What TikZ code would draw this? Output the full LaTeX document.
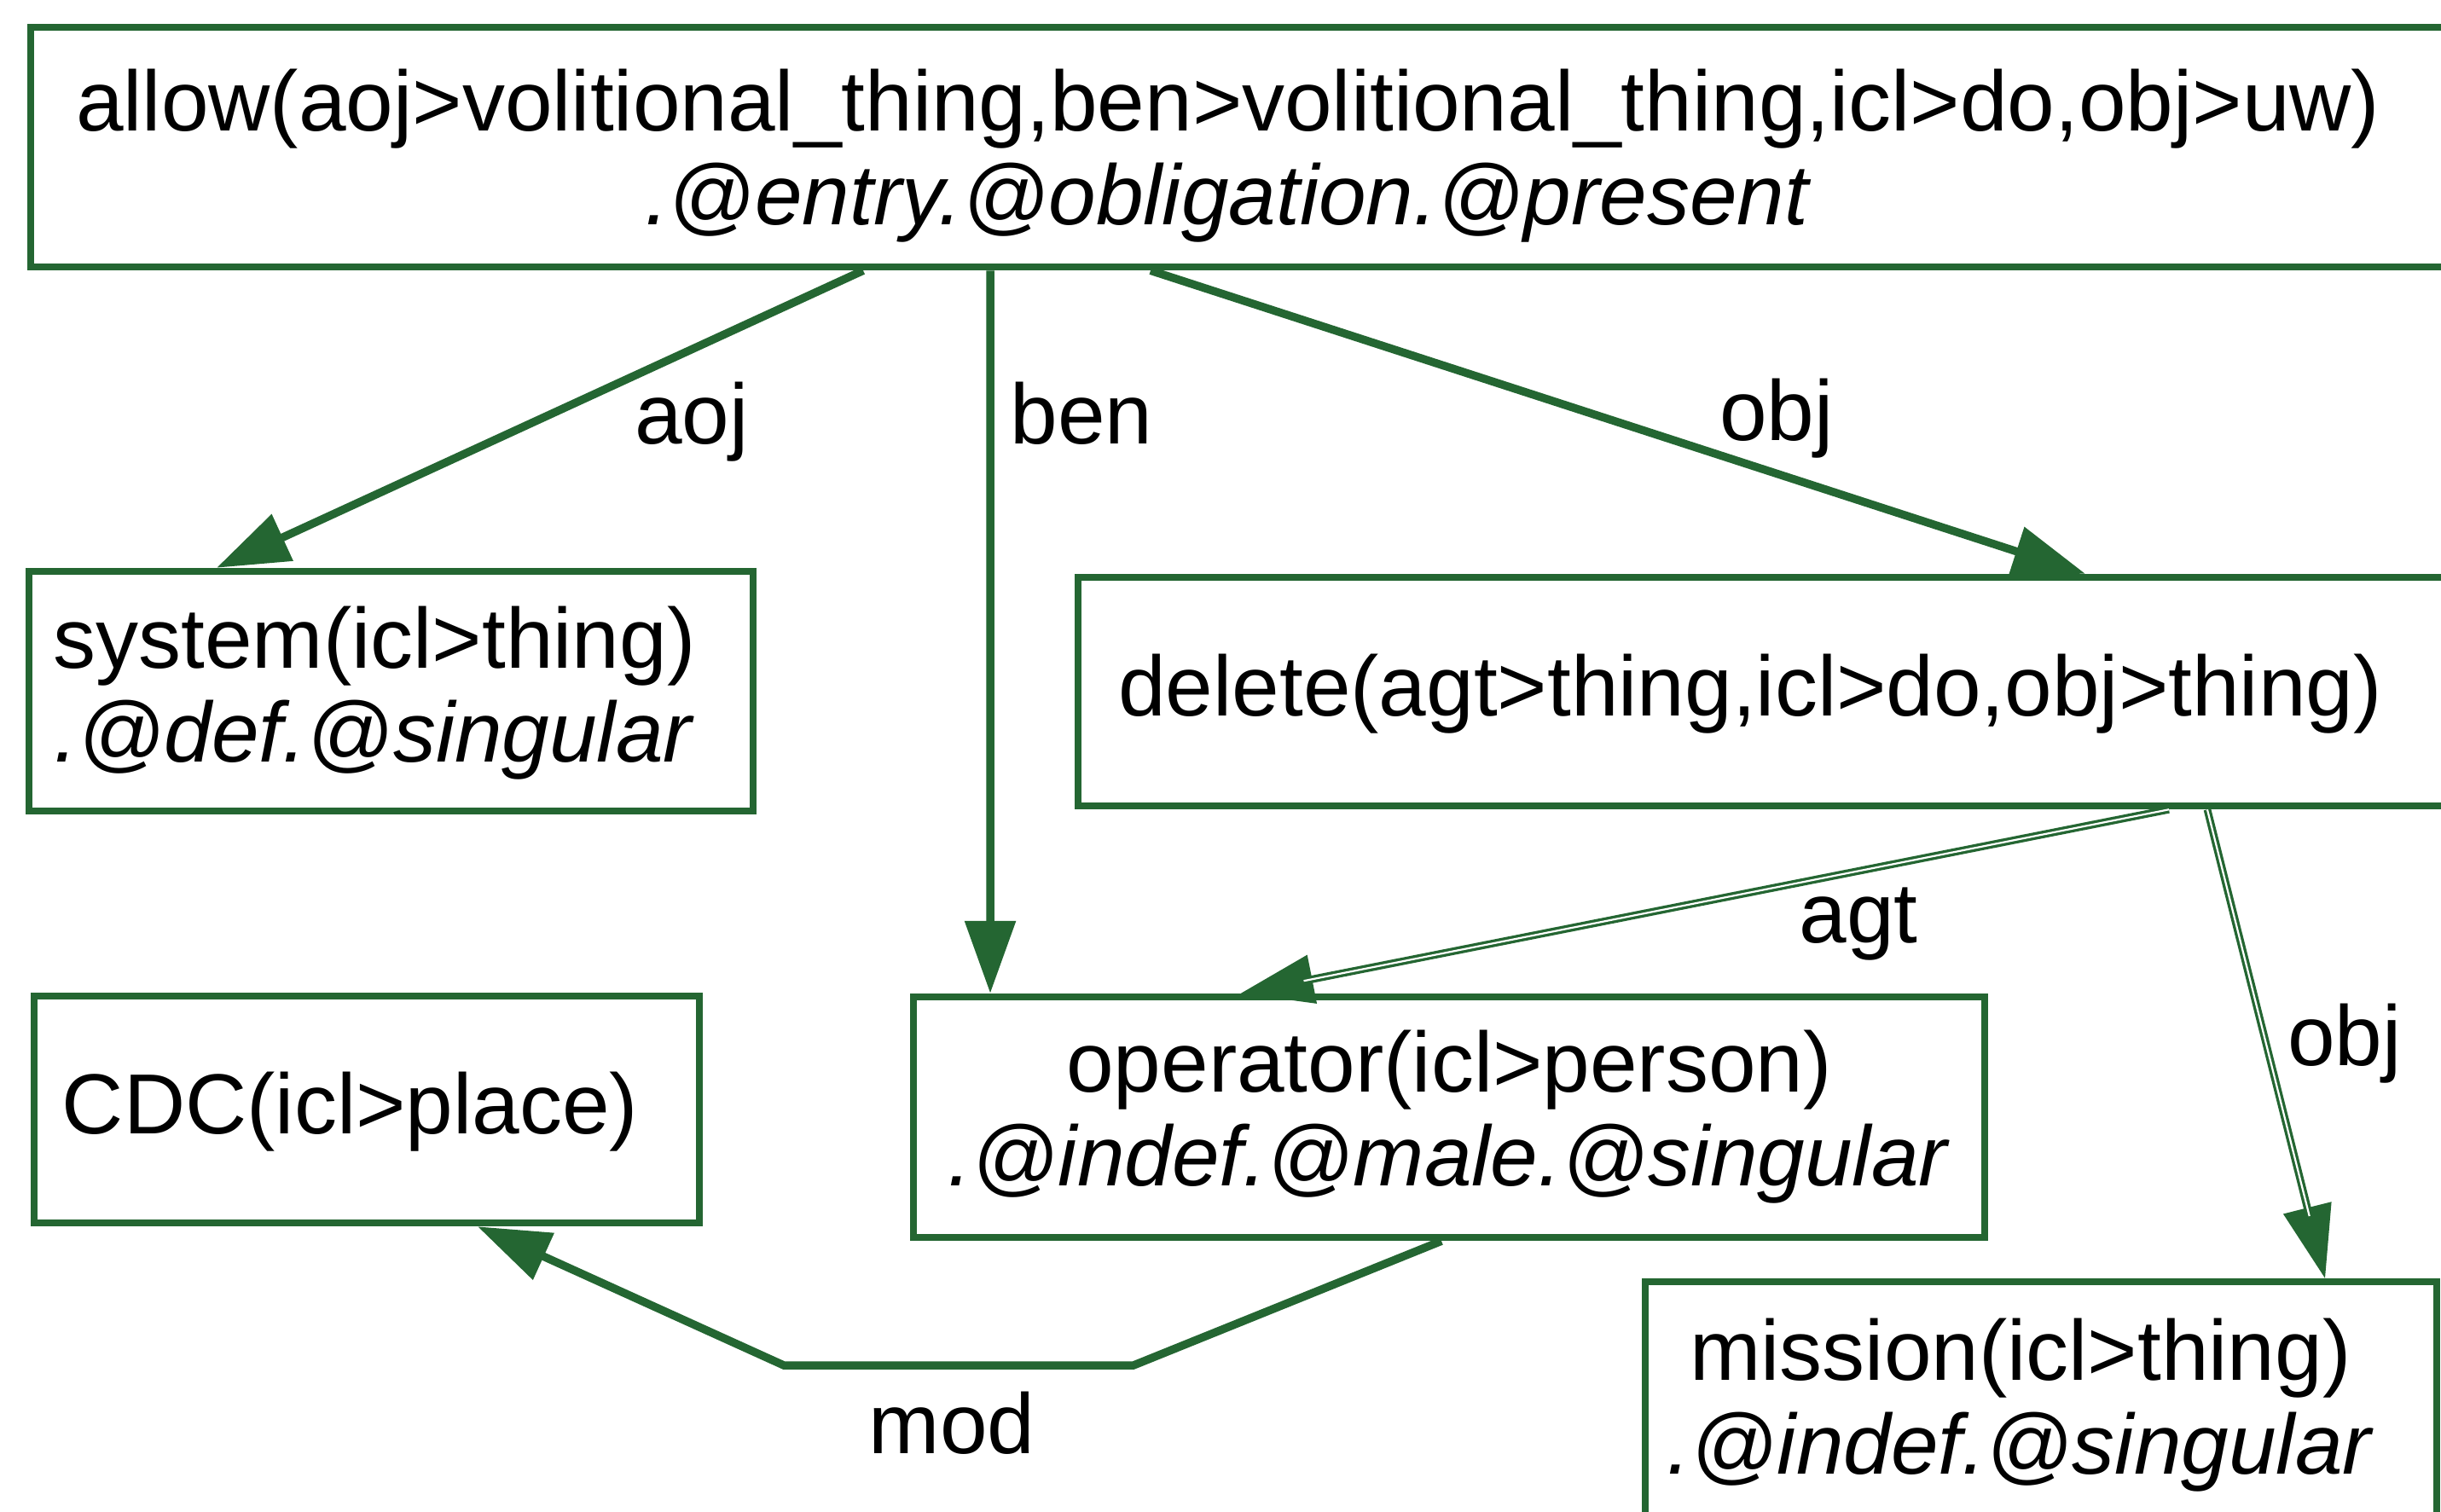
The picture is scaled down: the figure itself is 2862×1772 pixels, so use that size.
\documentclass[tikz,border=0pt]{standalone}
\usepackage{fontspec}
\setmainfont{Liberation Sans}
\usetikzlibrary{arrows.meta}
\definecolor{dgreen}{RGB}{36,102,50}
\newcommand{\boxtext}[3]{\raisebox{#2}[0pt][0pt]{\makebox[0pt][c]{\hspace*{#1}\begin{tabular}[b]{@{}c@{}}#3\end{tabular}}}}
\newcommand{\us}{\char"5F}
\tikzset{
  box/.style={draw=dgreen, line width=0.85pt, fill=white, rectangle, inner sep=0pt, text=black},
  edge/.style={draw=dgreen, line width=0.95pt, -{Triangle[length=8.5pt,width=5.8pt]}},
  dtip/.style={draw=dgreen, line width=0.15pt, -{Triangle[length=8.5pt,width=5.8pt]}},
  dline/.style={draw=dgreen, double=white, line width=0.33pt, double distance=0.22pt, shorten >=7.5pt},
  lbl/.style={anchor=base, inner sep=0pt, text=black}
}
\begin{document}
\begin{tikzpicture}[x=0.1pt, y=-0.1pt, font=\fontsize{10}{11}\selectfont]
\useasboundingbox (0,0) rectangle (2862,1772);
\clip (0,0) rectangle (2862,1772);
\fill[white] (0,0) rectangle (2862,1772);

\node[box, minimum width=289.4pt, minimum height=28.1pt] (allow) at (1483,172.5)
  {\boxtext{-8.6pt}{-9.05pt}{allow(aoj>volitional\us thing,ben>volitional\us thing,icl>do,obj>uw)\\ \textit{.@entry.@obligation.@present}}};
\node[box, minimum width=84.9pt, minimum height=28.1pt] (system) at (458.5,810.5)
  {\boxtext{-3.9pt}{-8.25pt}{system(icl>thing)\\ \textit{.@def.@singular}}};
\node[box, minimum width=166.6pt, minimum height=26.8pt] (delete) at (2097,811)
  {\boxtext{-9pt}{-2.8pt}{delete(agt>thing,icl>do,obj>thing)}};
\node[box, minimum width=78pt, minimum height=26.6pt] (cdc) at (430,1301)
  {\boxtext{-3.9pt}{-2.8pt}{CDC(icl>place)}};
\node[box, minimum width=125.6pt, minimum height=28.2pt] (operator) at (1699,1310)
  {\boxtext{0pt}{-8pt}{operator(icl>person)\\ \textit{.@indef.@male.@singular}}};
\node[box, minimum width=92.8pt, minimum height=28.1pt] (mission) at (2393,1643.5)
  {\boxtext{-4.8pt}{-8.45pt}{mission(icl>thing)\\ \textit{.@indef.@singular}}};

\draw[edge] ([xshift=-47.1pt]allow.south) -- ([xshift=-20.45pt]system.north);
\draw[edge] ([xshift=-32.2pt]allow.south) -- ([xshift=-53.8pt]operator.north);
\draw[edge] ([xshift=-13.4pt]allow.south) -- ([xshift=34.8pt]delete.north);

\draw[dtip] ([xshift=44.6pt]delete.south) -- ([xshift=-24.4pt]operator.north);
\draw[dline] ([xshift=44.6pt]delete.south) -- ([xshift=-24.4pt]operator.north);
\draw[dtip] ([xshift=49.1pt]delete.south) -- ([xshift=33.3pt]mission.north);
\draw[dline] ([xshift=49.1pt]delete.south) -- ([xshift=33.3pt]mission.north);

\coordinate (m1) at (1329,1601);
\coordinate (m2) at (919,1601);
\draw[edge] ([xshift=-0.9pt]operator.south) -- (m1) -- (m2) -- ([xshift=13pt]cdc.south);

\node[lbl] (laoj) at (811,520) {aoj};
\node[lbl] (lben) at (1268,520) {ben};
\node[lbl] (lobj1) at (2083,516) {obj};
\node[lbl] (lagt) at (2179,1105) {agt};
\node[lbl] (lobj2) at (2749,1249) {obj};
\node[lbl] (lmod) at (1116,1704) {mod};
\end{tikzpicture}
\end{document}
